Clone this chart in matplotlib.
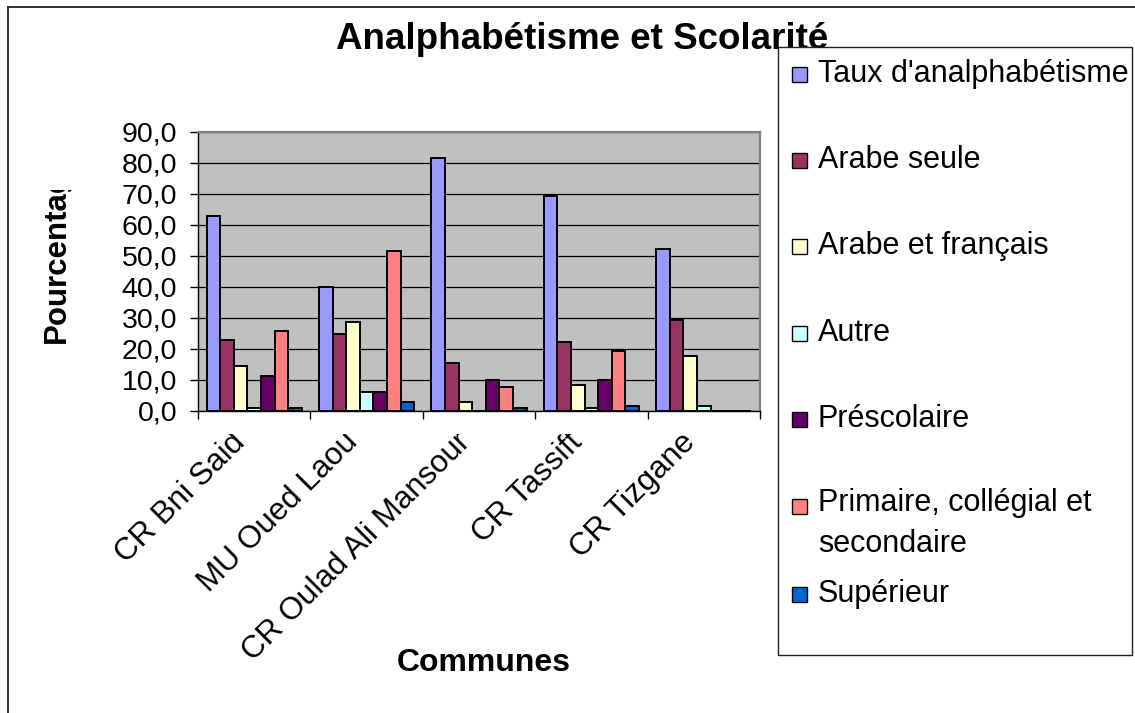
import numpy as np
import matplotlib
matplotlib.use('Agg')
import matplotlib.pyplot as plt
from matplotlib.patches import Rectangle
from matplotlib.lines import Line2D
from matplotlib.transforms import Bbox, TransformedBbox, ScaledTranslation
from matplotlib.ticker import FuncFormatter

plt.rcParams['font.family'] = ['Liberation Sans', 'DejaVu Sans']

# ---------------- data ----------------
communes = ["CR Bni Said", "MU Oued Laou", "CR Oulad Ali Mansour", "CR Tassift", "CR Tizgane"]
series = ["Taux d'analphabétisme", "Arabe seule", "Arabe et français", "Autre",
          "Préscolaire", "Primaire, collégial et\nsecondaire", "Supérieur"]
colors = ["#9999FF", "#993366", "#FFFFCC", "#CCFFFF", "#660066", "#FF8080", "#0066CC"]

taux_analphabetisme = [62.9, 40.0, 81.5, 69.3, 52.3]
arabe_seule = [22.9, 24.9, 15.3, 22.3, 29.4]
arabe_francais = [14.4, 28.7, 2.9, 8.4, 17.7]
autre = [1.0, 5.9, 0.0, 1.0, 1.6]
prescolaire = [11.3, 5.9, 10.0, 10.0, 0.0]
primaire_secondaire = [25.8, 51.6, 7.7, 19.1, 0.0]
superieur = [0.8, 2.9, 1.0, 1.6, 0.0]
yticks = [0, 10, 20, 30, 40, 50, 60, 70, 80, 90]

title = "Analphabétisme et Scolarité"
xlabel = "Communes"
ylabel = "Pourcentage"

values = [taux_analphabetisme, arabe_seule, arabe_francais, autre,
          prescolaire, primaire_secondaire, superieur]

# ---------------- layout helpers ----------------
W, H = 1135, 713
def fx(px):
    return px / W
def fy(py):
    return 1 - py / H

fig = plt.figure(figsize=(W / 100, H / 100), dpi=100)
fig.patch.set_facecolor('white')

ax_left, ax_right, ax_top, ax_bottom = 198, 760, 131.7, 410.7
ax = fig.add_axes([fx(ax_left), fy(ax_bottom), fx(ax_right - ax_left), (ax_bottom - ax_top) / H])
ax.set_facecolor('#C0C0C0')

x = np.arange(len(communes))
n = len(values)
w = 0.121
for j, (vals, c) in enumerate(zip(values, colors)):
    ax.bar(x + (j - (n - 1) / 2) * w, vals, w, color=c, edgecolor='black',
           linewidth=1.4, zorder=3)

ax.set_xlim(-0.5, len(communes) - 0.5)
ax.set_ylim(yticks[0], yticks[-1])
ax.set_yticks(yticks)
ax.yaxis.set_major_formatter(FuncFormatter(lambda v, p: f"{v:.1f}".replace('.', ',')))
ax.yaxis.grid(True, color='black', linewidth=0.9, zorder=1)
ax.set_axisbelow(True)

for s in ['left', 'bottom']:
    ax.spines[s].set_color('black')
    ax.spines[s].set_linewidth(1.0)
for s in ['top', 'right']:
    ax.spines[s].set_color('#808080')
    ax.spines[s].set_linewidth(1.6)

ax.tick_params(axis='y', length=6, width=1, pad=9, labelsize=20.5, direction='out')

# category boundaries as major ticks, names at centres as minor ticks
ax.set_xticks(np.arange(-0.5, len(communes), 1.0))
ax.set_xticklabels([])
ax.set_xticks(x, communes, minor=True)
ax.tick_params(axis='x', which='major', length=6, width=1, direction='out')
ax.tick_params(axis='x', which='minor', length=0, pad=12, labelsize=22.5)

clip_labels = TransformedBbox(Bbox([[0, 0], [W / 100, (H - 434) / 100]]), fig.dpi_scale_trans)
shift = ScaledTranslation(-24 / 100, 0, fig.dpi_scale_trans)
for lab in ax.get_xticklabels(minor=True):
    lab.set_rotation(45)
    lab.set_ha('right')
    lab.set_va('top')
    lab.set_rotation_mode('anchor')
    lab.set_transform(lab.get_transform() + shift)
    lab.set_clip_box(clip_labels)
    lab.set_clip_on(True)

# axis titles
ax.set_xlabel(xlabel, fontsize=23, fontweight='bold', va='center')
ax.xaxis.set_label_coords((484 - ax_left) / (ax_right - ax_left),
                          ((H - 663) - (H - ax_bottom)) / (ax_bottom - ax_top))
yl = ax.set_ylabel(ylabel, fontsize=22.5, fontweight='bold', ha='left', va='center')
ax.yaxis.set_label_coords((57 - ax_left) / (ax_right - ax_left),
                          ((H - 343) - (H - ax_bottom)) / (ax_bottom - ax_top))
yl.set_clip_box(TransformedBbox(Bbox([[0, 0], [W / 100, (H - 190) / 100]]), fig.dpi_scale_trans))
yl.set_clip_on(True)

# chart frame (left and top edges visible)
fig.add_artist(Line2D([fx(8), fx(8)], [0, fy(7)], transform=fig.transFigure,
                      color='#222222', linewidth=1.3))
fig.add_artist(Line2D([fx(8), 1], [fy(7), fy(7)], transform=fig.transFigure,
                      color='#222222', linewidth=1.3))

# title (partly hidden by the legend box, as in the original)
fig.text(fx(582), fy(49), title, ha='center', va='baseline', fontsize=26.5,
         fontweight='bold', zorder=3)

# legend drawn as in the spreadsheet export
leg_l, leg_t, leg_r, leg_b = 778, 47, 1132, 655
fig.add_artist(Rectangle((fx(leg_l), fy(leg_b)), fx(leg_r - leg_l), (leg_b - leg_t) / H,
                         transform=fig.transFigure, facecolor='white',
                         edgecolor='#222222', linewidth=1.0, zorder=5))
baselines = [82, 168, 254, 341, 427, 514, 602]
line_gap = 38
for name, c, bl in zip(series, colors, baselines):
    fig.add_artist(Rectangle((fx(792), fy(bl)), fx(15), 15 / H, transform=fig.transFigure,
                             facecolor=c, edgecolor='black', linewidth=1.0, zorder=6))
    nlines = name.count('\n') + 1
    fig.text(fx(818), fy(bl + line_gap * (nlines - 1)), name, ha='left', va='baseline',
             fontsize=22, linespacing=1.5, zorder=6)

fig.savefig('out.png', dpi=100, facecolor='white')
